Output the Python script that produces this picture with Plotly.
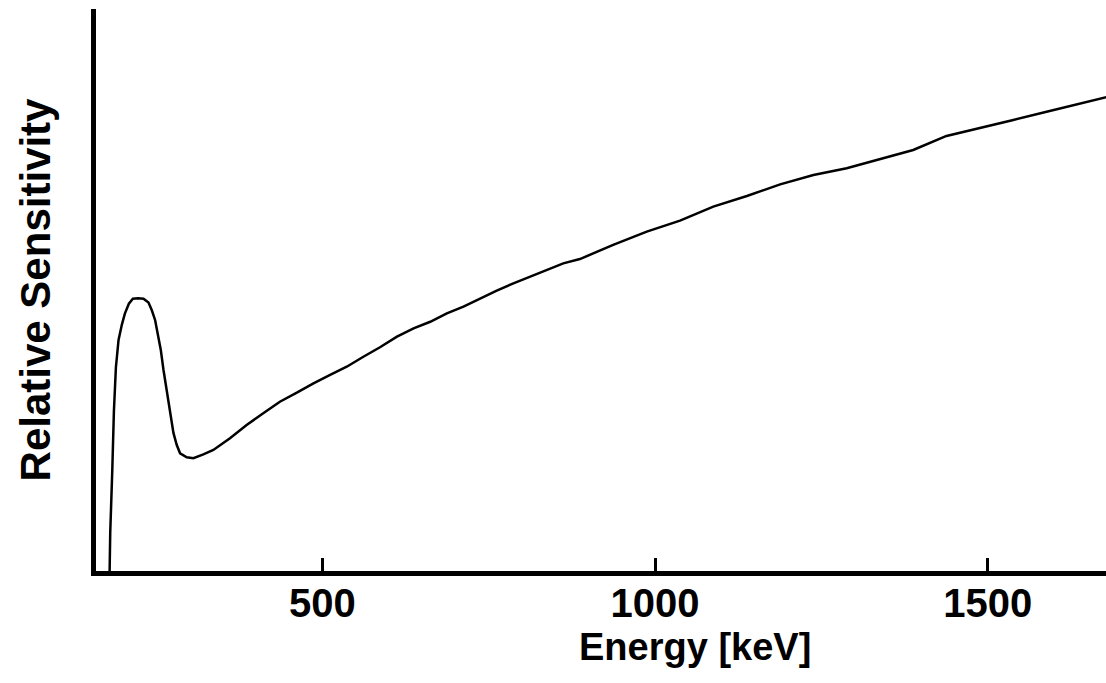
import plotly.graph_objects as go

# Energy [keV] and relative sensitivity (arbitrary units)
energy_kev = [180, 181, 184, 186.5, 189.5, 193.5, 198.5, 203, 209, 215, 223, 231,
              238.5, 243.5, 248.5, 253.5, 257, 261, 266, 271, 276, 281, 286, 296,
              306, 321, 336, 361, 386, 411, 436, 461.5, 486.5, 511.5, 536.5, 561.5,
              586.5, 612, 637, 662, 687, 712, 737, 762, 787, 812, 837, 862, 887,
              937, 987.5, 1037.5, 1087.5, 1138, 1188, 1238, 1288, 1338, 1388,
              1438, 1488, 1538.5, 1588.5, 1638.5, 1680]
sensitivity = [-0.03, 0.35, 0.9, 1.45, 1.85, 2.1, 2.24, 2.34, 2.43, 2.475, 2.48, 2.475,
               2.44, 2.37, 2.28, 2.13, 2.01, 1.83, 1.645, 1.46, 1.255, 1.145, 1.07, 1.034,
               1.025, 1.06, 1.10, 1.206, 1.327, 1.434, 1.539, 1.621, 1.706, 1.782, 1.857, 1.948,
               2.034, 2.13, 2.206, 2.266, 2.343, 2.403, 2.479, 2.548, 2.615, 2.675, 2.736, 2.797, 2.836,
               2.964, 3.085, 3.185, 3.312, 3.409, 3.515, 3.60, 3.661, 3.743, 3.827,
               3.955, 4.025, 4.10, 4.175, 4.252, 4.31]

x_ticks = [500, 1000, 1500]
x_tick_labels = ["500", "1000", "1500"]

FONT = "Liberation Sans, Arial, sans-serif"

fig = go.Figure()
fig.add_trace(go.Scatter(
    x=energy_kev, y=sensitivity, mode="lines",
    line=dict(color="black", width=2.5),
    hoverinfo="skip", showlegend=False,
))

fig.update_layout(
    width=1106, height=683,
    margin=dict(l=96, r=0, t=9, b=112, pad=0),
    paper_bgcolor="white", plot_bgcolor="white",
    font=dict(family=FONT, color="black"),
    xaxis=dict(
        range=[159.6, 1677.8], showgrid=False, zeroline=False,
        showline=True, linewidth=5, linecolor="black",
        ticks="inside", ticklen=13, tickwidth=2.5, tickcolor="black",
        tickvals=x_ticks, ticktext=x_tick_labels,
        tickfont=dict(family=FONT, size=40, color="black", weight="bold"),
        ticklabelstandoff=-7, automargin=False,
    ),
    yaxis=dict(
        range=[0, 5.109], showgrid=False, zeroline=False,
        showline=True, linewidth=5, linecolor="black",
        showticklabels=False, ticks="", automargin=False,
    ),
    annotations=[
        dict(text="Energy [keV]", xref="paper", yref="paper",
             x=0.593, y=-0.095, xanchor="center", yanchor="top", showarrow=False,
             font=dict(family=FONT, size=38, color="black", weight="bold")),
        dict(text="Relative Sensitivity", xref="paper", yref="paper",
             x=-0.06, y=0.5, xanchor="center", yanchor="middle", showarrow=False,
             textangle=-90,
             font=dict(family=FONT, size=42, color="black", weight="bold")),
    ],
)

fig.write_html("out.html",
               config={"displayModeBar": False},
               post_script="document.body.style.margin='0';document.body.style.overflow='hidden';")
